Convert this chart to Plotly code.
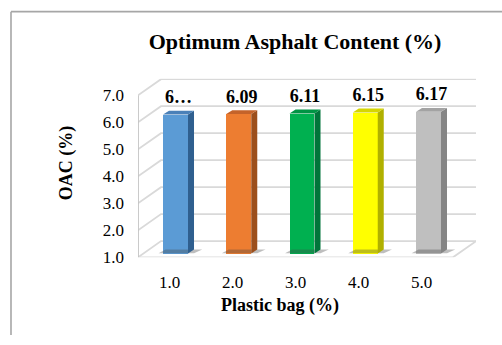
import plotly.graph_objects as go

# ---- data ----
plastic_bag = [1.0, 2.0, 3.0, 4.0, 5.0]          # plastic bag content (%)
oac = [6.07, 6.09, 6.11, 6.15, 6.17]              # optimum asphalt content (%)
y_ticks = [1, 2, 3, 4, 5, 6, 7]

front_colors = ["#5b9bd5", "#ed7d31", "#00b050", "#ffff00", "#bfbfbf"]
side_colors = ["#2f5f8f", "#9c4f1c", "#00753a", "#b0b000", "#858585"]
top_colors = ["#4a80b8", "#c4632a", "#009444", "#d6d600", "#a3a3a3"]

# value labels; the first one is shortened to fit its slot
labels = [f"{v:.2f}" for v in oac]
labels[0] = labels[0][0] + "\u2026"

# ---- geometry ----
W, H = 502, 345
SERIF = "Liberation Serif, Times New Roman, serif"


def px_x(p):
    return p / W


def px_y(p):
    return 1 - p / H


# front plane of the 3-D box (tick labels live here)
X_RANGE = [0.5, 5.865]
Y_RANGE = [1.0, 7.62]
DEPTH_X, DEPTH_Y = 0.365, 0.6      # back wall offset, front-plane units
# mid-depth plane where the bars stand
X2_RANGE = [0.407, 5.751]
Y2_RANGE = [0.858, 7.383]
BAR_W = 0.395
SIDE_X, SIDE_Y = 0.095, 0.142      # visible depth of each bar
BASE = 1.0

fig = go.Figure()

# empty trace that anchors the front-plane axes
fig.add_trace(go.Scatter(x=[], y=[], xaxis="x", yaxis="y", showlegend=False))

# soft shadows on the floor
for x, v in zip(plastic_bag, oac):
    cl, cr = x - BAR_W / 2, x + BAR_W / 2
    fig.add_trace(go.Scatter(
        x=[cl - 0.07, cl + 0.04, cr + SIDE_X + 0.13, cr + SIDE_X, cl - 0.07],
        y=[BASE + 0.01, BASE + 0.14, BASE + 0.14, BASE + 0.01, BASE + 0.01],
        mode="lines", fill="toself", fillcolor="rgba(70,70,70,0.35)",
        line=dict(width=0), xaxis="x2", yaxis="y2", hoverinfo="skip",
        showlegend=False))

# front faces
fig.add_trace(go.Bar(
    x=plastic_bag, y=[v - BASE for v in oac], base=[BASE] * len(oac),
    width=BAR_W, marker=dict(color=front_colors, line=dict(width=0)),
    xaxis="x2", yaxis="y2", showlegend=False,
    customdata=oac, hovertemplate="%{x:.1f}: %{customdata:.2f}<extra></extra>"))

# side and top faces
for x, v, sc, tc in zip(plastic_bag, oac, side_colors, top_colors):
    cl, cr = x - BAR_W / 2, x + BAR_W / 2
    fig.add_trace(go.Scatter(
        x=[cr, cr + SIDE_X, cr + SIDE_X, cr, cr],
        y=[BASE, BASE + SIDE_Y, v + SIDE_Y, v, BASE],
        mode="lines", fill="toself", fillcolor=sc, line=dict(width=0),
        xaxis="x2", yaxis="y2", hoverinfo="skip", showlegend=False))
    fig.add_trace(go.Scatter(
        x=[cl, cr, cr + SIDE_X, cl + SIDE_X, cl],
        y=[v, v, v + SIDE_Y, v + SIDE_Y, v],
        mode="lines", fill="toself", fillcolor=tc, line=dict(width=0),
        xaxis="x2", yaxis="y2", hoverinfo="skip", showlegend=False))

# value labels above the bars
fig.add_trace(go.Scatter(
    x=[x + SIDE_X / 2 for x in plastic_bag], y=[v + 0.58 for v in oac],
    text=labels, mode="text", textposition="middle center",
    textfont=dict(family=SERIF, size=18, color="#000000", weight="bold"),
    xaxis="x2", yaxis="y2", hoverinfo="skip", showlegend=False))

# walls, floor and gridlines of the box
grid = "#d9d9d9"
shapes = []
x0, x1 = X_RANGE[0], 5.5
for v in y_ticks:
    shapes.append(dict(
        type="path", xref="x", yref="y", layer="below",
        path=f"M {x0},{v} L {x0 + DEPTH_X},{v + DEPTH_Y} L {x1 + DEPTH_X},{v + DEPTH_Y}",
        line=dict(color=grid, width=1.8)))
shapes.append(dict(
    type="path", xref="x", yref="y", layer="below",
    path=f"M {x0},{BASE} L {x1},{BASE} L {x1 + DEPTH_X},{BASE + DEPTH_Y}",
    line=dict(color=grid, width=1.8)))
shapes.append(dict(
    type="line", xref="x", yref="y", layer="below",
    x0=x0, x1=x0, y0=BASE, y1=y_ticks[-1],
    line=dict(color="#c4c4c4", width=1.8)))

# outer chart frame
shapes.append(dict(type="line", xref="paper", yref="paper",
                   x0=px_x(11), x1=px_x(11), y0=px_y(12), y1=0,
                   line=dict(color="#a6a6a6", width=1.6)))
shapes.append(dict(type="line", xref="paper", yref="paper",
                   x0=px_x(11), x1=1, y0=px_y(12), y1=px_y(12),
                   line=dict(color="#a6a6a6", width=1.6)))

x_dom = [px_x(138), px_x(476)]
y_dom = [px_y(265), px_y(81)]

fig.update_layout(
    width=W, height=H, autosize=False,
    margin=dict(l=0, r=0, t=0, b=0),
    paper_bgcolor="#ffffff", plot_bgcolor="rgba(0,0,0,0)",
    font=dict(family=SERIF, color="#000000"),
    title=dict(text="Optimum Asphalt Content (%)", x=px_x(295), y=px_y(43),
               xanchor="center", yanchor="middle", xref="paper", yref="paper",
               font=dict(family=SERIF, size=22, color="#000000", weight="bold")),
    xaxis=dict(domain=x_dom, range=X_RANGE, tickvals=plastic_bag,
               tickformat=".1f", showgrid=False, zeroline=False,
               showline=False, ticks="", ticklabelstandoff=13,
               tickfont=dict(family=SERIF, size=17, color="#000000"),
               fixedrange=True),
    yaxis=dict(domain=y_dom, range=Y_RANGE, tickvals=y_ticks,
               tickformat=".1f", showgrid=False, zeroline=False,
               showline=False, ticks="", ticklabelstandoff=13,
               tickfont=dict(family=SERIF, size=17, color="#000000"),
               fixedrange=True),
    xaxis2=dict(overlaying="x", anchor="y2", range=X2_RANGE, visible=False,
                fixedrange=True),
    yaxis2=dict(overlaying="y", anchor="x2", range=Y2_RANGE, visible=False,
                fixedrange=True),
    shapes=shapes,
    annotations=[
        dict(text="OAC (%)", textangle=-90, x=px_x(66), y=px_y(168),
             xref="paper", yref="paper", showarrow=False,
             xanchor="center", yanchor="middle",
             font=dict(family=SERIF, size=18, color="#000000", weight="bold")),
        dict(text="Plastic bag (%)", x=px_x(280), y=px_y(315),
             xref="paper", yref="paper", showarrow=False,
             xanchor="center", yanchor="middle",
             font=dict(family=SERIF, size=18, color="#000000", weight="bold")),
    ],
    showlegend=False, bargap=0,
)

fig.write_html("out.html")
